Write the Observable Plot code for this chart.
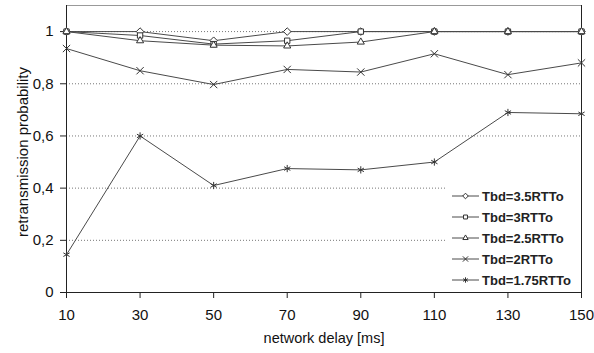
<!DOCTYPE html>
<html>
<head>
<meta charset="utf-8">
<script src="https://cdn.jsdelivr.net/npm/d3@7"></script>
<script src="https://cdn.jsdelivr.net/npm/@observablehq/plot@0.6"></script>
<style>
  body { margin: 0; background: #fff; }
  #wrap { position: relative; width: 594px; height: 353px; font-family: "Liberation Sans", Arial, sans-serif; }
  #legend { position: absolute; left: 447px; top: 185px; width: 133px; height: 106px; background: #fff; }
  .li { position: absolute; left: 0; height: 16px; display: flex; align-items: center; font-weight: bold; font-size: 13px; color: #222; white-space: nowrap; }
  .li svg { margin-left: 5px; margin-right: 3px; }
</style>
</head>
<body>
<div id="wrap"></div>
<script>
const delays = [10, 30, 50, 70, 90, 110, 130, 150];
const seriesNames = ["Tbd=3.5RTTo", "Tbd=3RTTo", "Tbd=2.5RTTo", "Tbd=2RTTo", "Tbd=1.75RTTo"];
const tbd35 = [1, 1, 0.965, 1, 1, 1, 1, 1];
const tbd3 = [1, 0.985, 0.952, 0.965, 1, 1, 1, 1];
const tbd25 = [1, 0.965, 0.948, 0.945, 0.96, 1, 1, 1];
const tbd2 = [0.935, 0.85, 0.797, 0.855, 0.845, 0.915, 0.835, 0.88];
const tbd175 = [0.145, 0.6, 0.41, 0.475, 0.47, 0.5, 0.69, 0.685];
const yTicks = [0, 0.2, 0.4, 0.6, 0.8, 1];
const symbols = ["diamond2", "square2", "triangle2", "times", "asterisk"];

const allSeries = [tbd35, tbd3, tbd25, tbd2, tbd175];
const rows = [];
allSeries.forEach((vals, i) => vals.forEach((v, j) => rows.push({series: seriesNames[i], x: delays[j], y: v})));

const fmt = d => (d === 0 || d === 1) ? String(d) : String(d).replace(".", ",");
const lineColor = "#4a4a4a";

const chart = Plot.plot({
  width: 594,
  height: 353,
  marginLeft: 66,
  marginRight: 13,
  marginTop: 5,
  marginBottom: 61,
  style: {fontFamily: "Liberation Sans, Arial, sans-serif", fontSize: "15px", background: "#fff", color: "#111"},
  x: {domain: [10, 150]},
  y: {domain: [0, 1.1]},
  symbol: {domain: seriesNames, range: symbols},
  marks: [
    Plot.gridY(yTicks.filter(d => d > 0), {stroke: "#777", strokeOpacity: 1, strokeDasharray: "1,2"}),
    Plot.frame({anchor: "top", stroke: "#999"}),
    Plot.frame({anchor: "right", stroke: "#222"}),
    Plot.axisY(yTicks, {tickFormat: fmt, tickSize: 6, tickPadding: 7, stroke: "#222", fontSize: 15, label: null}),
    Plot.axisX(delays, {tickFormat: d => String(d), tickSize: 6, tickPadding: 11, stroke: "#222", fontSize: 15, label: null}),
    Plot.ruleX([10], {stroke: "#222"}),
    Plot.ruleY([0], {stroke: "#222"}),
    Plot.line(rows, {x: "x", y: "y", z: "series", stroke: lineColor, strokeWidth: 1}),
    Plot.dot(rows, {x: "x", y: "y", symbol: "series", r: 3.4, stroke: "#333", fill: "#fff", strokeWidth: 1}),
    Plot.text(["network delay [ms]"], {frameAnchor: "bottom", dy: 50, fontSize: 14.5, fill: "#111"}),
    Plot.text(["retransmission probability"], {frameAnchor: "left", textAnchor: "middle", dx: -43, dy: 3, rotate: -90, fontSize: 15, fill: "#111"})
  ]
});

const wrap = document.getElementById("wrap");
wrap.appendChild(chart);

const legend = document.createElement("div");
legend.id = "legend";
const symMap = {diamond2: d3.symbolDiamond2, square2: d3.symbolSquare2, triangle2: d3.symbolTriangle2, times: d3.symbolTimes, asterisk: d3.symbolAsterisk};
seriesNames.forEach((name, i) => {
  const item = document.createElement("div");
  item.className = "li";
  item.style.top = (3 + i * 21) + "px";
  const path = d3.symbol(symMap[symbols[i]], 20)();
  item.innerHTML = `<svg width="27" height="10" viewBox="0 0 27 10"><line x1="0" x2="27" y1="5" y2="5" stroke="${lineColor}" stroke-width="1"/><path d="${path}" transform="translate(13.5,5)" fill="#fff" stroke="#333" stroke-width="1"/></svg><span>${name}</span>`;
  legend.appendChild(item);
});
wrap.appendChild(legend);
</script>
</body>
</html>
